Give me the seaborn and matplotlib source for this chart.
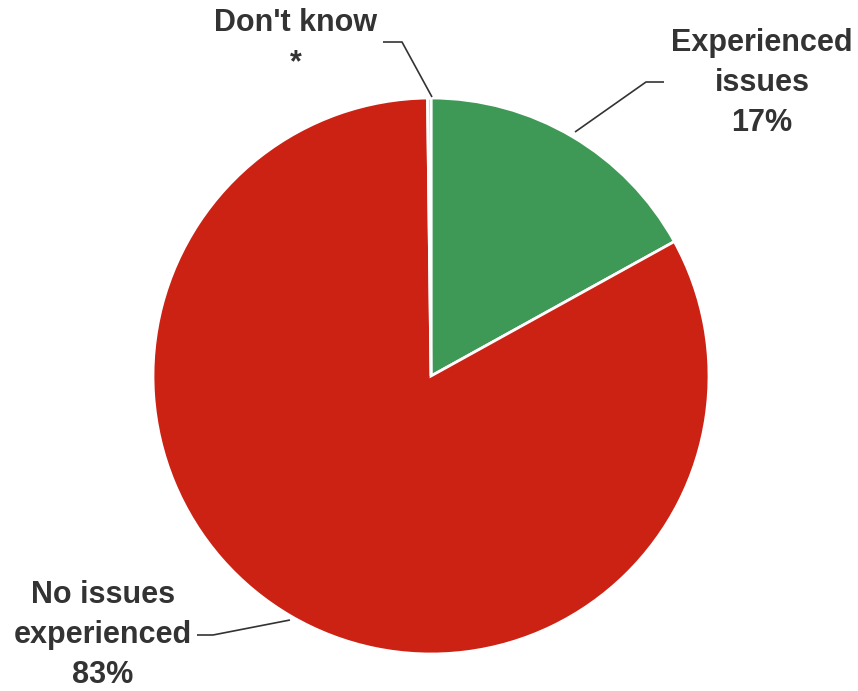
import matplotlib
matplotlib.use("Agg")
import matplotlib.pyplot as plt
import seaborn as sns

# Survey shares (percent)
categories = ["Experienced\nissues", "No issues\nexperienced", "Don't know"]
values = [17, 83, 0.2]
value_labels = ["17%", "83%", "*"]
colors = ["#3E9856", "#CC2214", "#BDBDBD"]

sns.set_theme(style="white")
plt.rcParams["font.family"] = ["Liberation Sans", "DejaVu Sans"]

W, H = 858, 691
cx, cy, R = 431, 376, 278

fig = plt.figure(figsize=(W / 100, H / 100), dpi=100)
ax = fig.add_axes([0, 0, 1, 1])

ax.pie(values, colors=colors, startangle=90, counterclock=False, radius=1,
       wedgeprops=dict(edgecolor="white", linewidth=2))

# pie() resets the limits, so set them afterwards
ax.set_xlim(-cx / R, (W - cx) / R)
ax.set_ylim(-(H - cy) / R, cy / R)
ax.set_aspect("auto")
ax.axis("off")


def px(x, y):
    """Pixel position (from top-left) to data coordinates."""
    return (x - cx) / R, (cy - y) / R


text_color = "#333333"
# label block centres and leader lines (pixel positions)
label_pos = [(762, 83), (103, 635), (296, 43)]
leaders = [
    [(575, 132), (646, 82), (664, 82)],
    [(290, 620), (213, 635), (197, 635)],
    [(432, 97), (402, 42), (383, 42)],
]

for cat, lab, pos, pts in zip(categories, value_labels, label_pos, leaders):
    xs, ys = zip(*[px(*p) for p in pts])
    ax.plot(xs, ys, color="#333333", lw=1.2, solid_capstyle="butt")
    tx, ty = px(*pos)
    ax.text(tx, ty, f"{cat}\n{lab}", ha="center", va="center",
            fontsize=22, fontweight="bold", color=text_color,
            linespacing=1.45)

fig.savefig("out.png", dpi=100)
